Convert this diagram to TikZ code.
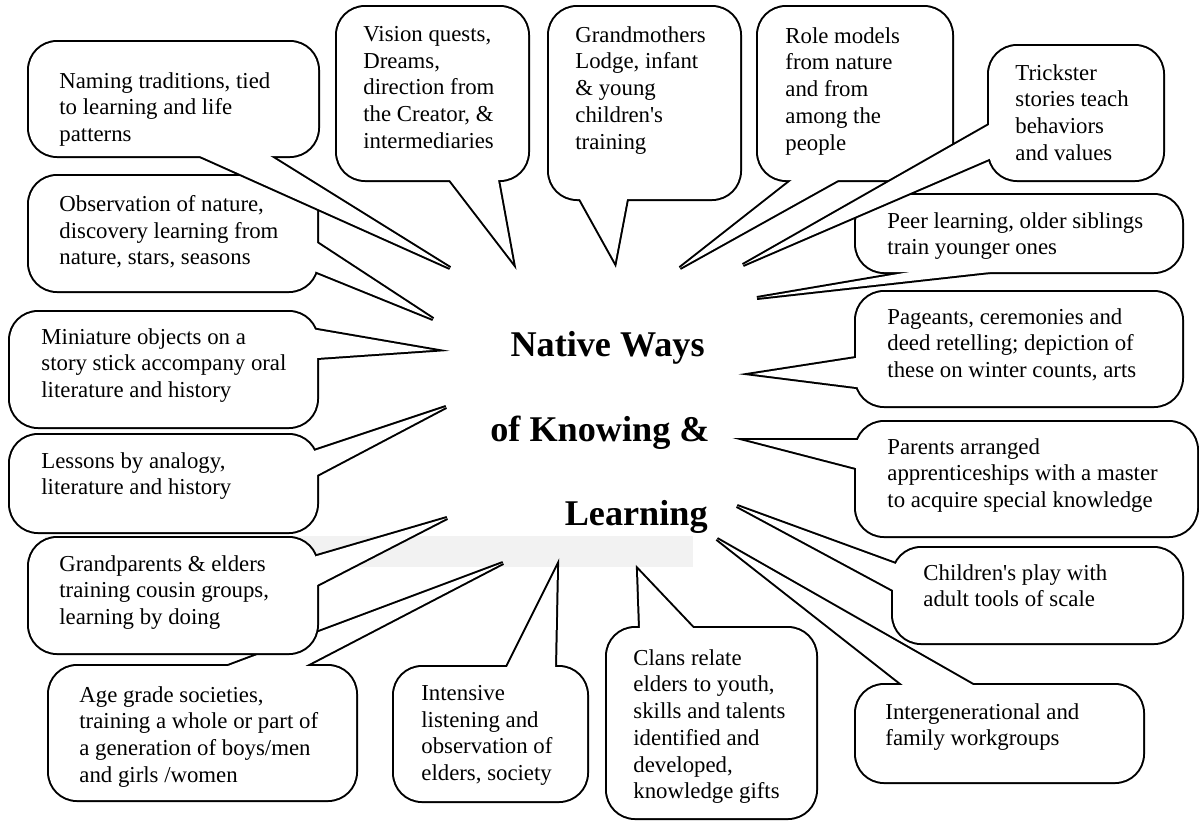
\documentclass[tikz,border=0pt]{standalone}
\usepackage{fontspec}
\setmainfont{Liberation Serif}
\usetikzlibrary{calc}

\definecolor{bandgray}{HTML}{F2F2F2}

% callout bubble: name, box corners, pointer base points, pointer tip
\newcommand{\callout}[6]{%
  \coordinate (#1tip) at #6;
  \draw[line width=2pt, rounded corners=14] #2 rectangle #3;
  \draw[line width=2pt] ($#4!-4pt!(#1tip)$) -- (#1tip) -- ($#5!-4pt!(#1tip)$) -- cycle;
  \fill[white, rounded corners=14] #2 rectangle #3;
  \fill[white] ($#4!-4pt!(#1tip)$) -- (#1tip) -- ($#5!-4pt!(#1tip)$) -- cycle;
}

\begin{document}
\begin{tikzpicture}[x=0.5pt, y=-0.5pt,
  txt/.style={anchor=north west, align=left, inner sep=0pt,
    font=\fontsize{11.4}{13.35}\selectfont},
  headline/.style={anchor=base east, inner sep=0pt,
    font=\bfseries\fontsize{18.1}{20}\selectfont}]

  \useasboundingbox (0,0) rectangle (1199,820);

  % grey band behind the title
  \fill[bandgray] (45,536) rectangle (693,567);

  % Title in the middle
  \node[headline] (native) at (705,356) {Native Ways};
  \node[headline] (knowing) at (710,441) {of Knowing \&};
  \node[headline] (learning) at (708,525) {Learning};

  % Left column
  \callout{observe}{(29,176)}{(317,291)}{(317,243)}{(317,272)}{(433,319)}
  \node[txt] (observe) at (59,195) {Observation of nature,\\discovery learning from\\nature, stars, seasons};

  \callout{naming}{(29,42)}{(318,156)}{(200,156)}{(270,156)}{(450,268)}
  \node[txt] (naming) at (59,72) {Naming traditions, tied\\to learning and life\\patterns};

  \callout{miniature}{(10,312)}{(317,427)}{(317,330)}{(317,358)}{(433,350)}
  \node[txt] (miniature) at (41,328) {Miniature objects on a\\story stick accompany oral\\literature and history};

  \callout{lessons}{(10,435)}{(317,532)}{(317,450)}{(317,475)}{(446,407)}
  \node[txt] (lessons) at (41,452) {Lessons by analogy,\\literature and history};

  \callout{agegrade}{(49,666)}{(356,800)}{(228,666)}{(305,666)}{(503,563)}
  \node[txt] (agegrade) at (79,686) {Age grade societies,\\training a whole or part of\\a generation of boys/men\\and girls /women};

  \callout{grandparents}{(29,538)}{(317,653)}{(317,556)}{(317,585)}{(447,518)}
  \node[txt] (grandparents) at (59,555) {Grandparents \& elders\\training cousin groups,\\learning by doing};

  % Bottom row
  \callout{listening}{(394,667)}{(587,801)}{(507,667)}{(555,667)}{(557,567)}
  \node[txt] (listening) at (421,685) {Intensive\\listening and\\observation of\\elders, society};

  \callout{clans}{(607,628)}{(816,818)}{(640,628)}{(693,628)}{(638,570)}
  \node[txt] (clans) at (633,649) {Clans relate\\elders to youth,\\skills and talents\\identified and\\developed,\\knowledge gifts};

  % Right column
  \callout{intergen}{(856,685)}{(1143,782)}{(903,685)}{(973,685)}{(717,539)}
  \node[txt] (intergen) at (885,703) {Intergenerational and\\family workgroups};

  \callout{play}{(893,548)}{(1182,643)}{(893,563)}{(893,590)}{(737,506)}
  \node[txt] (play) at (923,564) {Children\textquotesingle s play with\\adult tools of scale};

  \callout{parents}{(856,422)}{(1197,536)}{(856,440)}{(856,468)}{(748,440)}
  \node[txt] (parents) at (887,438) {Parents arranged\\apprenticeships with a master\\to acquire special knowledge};

  \callout{pageants}{(856,292)}{(1182,406)}{(856,358)}{(856,387)}{(753,374)}
  \node[txt] (pageants) at (887,308) {Pageants, ceremonies and\\deed retelling; depiction of\\these on winter counts, arts};

  \callout{peer}{(856,195)}{(1182,272)}{(910,272)}{(990,272)}{(757,298)}
  \node[txt] (peer) at (887,212) {Peer learning, older siblings\\train younger ones};

  % Top row
  \callout{rolemodels}{(758,7)}{(952,180)}{(792,180)}{(838,180)}{(680,268)}
  \node[txt] (rolemodels) at (785,27) {Role models\\from nature\\and from\\among the\\people};

  \callout{trickster}{(989,46)}{(1163,180)}{(989,125)}{(989,159)}{(743,265)}
  \node[txt] (trickster) at (1015,64) {Trickster\\stories teach\\behaviors\\and values};

  \callout{grandmothers}{(549,7)}{(740,199)}{(580,199)}{(627,199)}{(615,262)}
  \node[txt] (grandmothers) at (575,26) {Grandmothers\\Lodge, infant\\\& young\\children\textquotesingle s\\training};

  \callout{vision}{(337,7)}{(528,180)}{(450,180)}{(498,180)}{(513,262)}
  \node[txt] (vision) at (363,26) {Vision quests,\\Dreams,\\direction from\\the Creator, \&\\intermediaries};

\end{tikzpicture}
\end{document}
